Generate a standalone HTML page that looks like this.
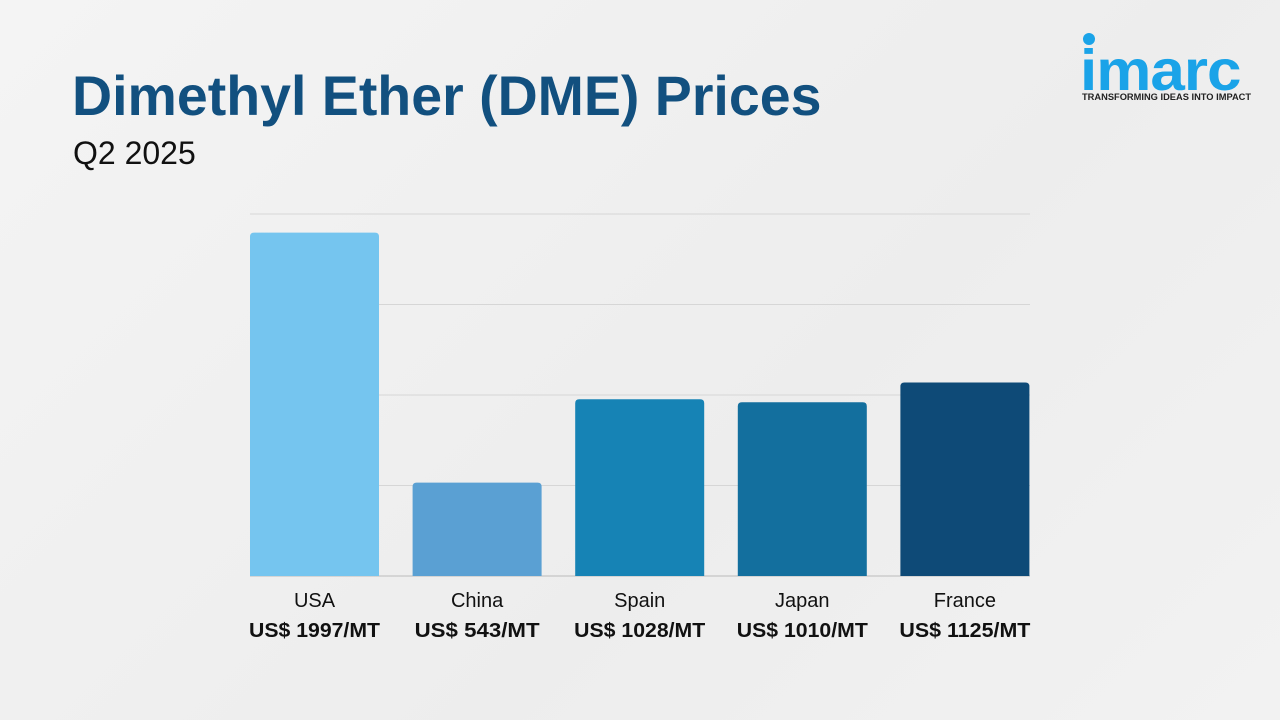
<!DOCTYPE html>
<html><head><meta charset="utf-8"><style>
body{margin:0;width:1280px;height:720px;overflow:hidden;background:linear-gradient(135deg,#f4f4f4,#ededed 60%,#f2f2f2);font-family:"Liberation Sans",sans-serif;position:relative}
.t{position:absolute;left:72px;top:64px;font-size:55.5px;font-weight:bold;color:#12507f;margin:0}
.s{position:absolute;left:73px;top:135px;font-size:32px;color:#111}
.logo{position:absolute;left:1080px;top:34px}
.logo .w{font-size:62px;font-weight:bold;color:#1aa3e8;letter-spacing:-1px;line-height:62px;position:absolute;left:0;top:4px;transform:scaleY(0.92);transform-origin:left bottom}
.logo .tag{position:absolute;left:2px;top:58px;font-size:9.3px;font-weight:bold;color:#222;white-space:nowrap}
</style></head><body>
<h1 class="t">Dimethyl Ether (DME) Prices</h1>
<div class="s">Q2 2025</div>
<div class="logo"><span class="w">imarc</span><span class="tag">TRANSFORMING IDEAS INTO IMPACT</span></div>
<svg id="c" width="1280" height="720" style="position:absolute;left:0;top:0"></svg>
<script>
const categories=["USA","China","Spain","Japan","France"];
const values=[1997,543,1028,1010,1125];
const valueLabels=["US$ 1997/MT","US$ 543/MT","US$ 1028/MT","US$ 1010/MT","US$ 1125/MT"];
const colors=["#75c5ef","#5aa0d3","#1683b5","#136f9e","#0e4a77"];
const gridTicks=[0,1,2,3,4];
const svg=document.getElementById('c');const NS="http://www.w3.org/2000/svg";
const x0=250,x1=1030,base=576,top_=214,maxV=2105;
const y=v=>base-(v/maxV)*(base-top_);
const step=(x1-x0+33)/categories.length,bw=129;
const xb=i=>x0+i*step;
function mk(t,a){const e=document.createElementNS(NS,t);for(const k in a)e.setAttribute(k,a[k]);svg.appendChild(e);return e;}
gridTicks.forEach(g=>{const yy=top_+g*(base-top_)/4;const l=mk('line',{x1:x0,x2:x1,y1:yy,y2:yy,stroke:g==4?'#bbb':'#d6d6d6','stroke-width':1});

});
categories.forEach((c,i)=>{
const yt=y(values[i]);
const r=mk('path',{d:`M${xb(i)},${base}V${yt+4}Q${xb(i)},${yt} ${xb(i)+4},${yt}H${xb(i)+bw-4}Q${xb(i)+bw},${yt} ${xb(i)+bw},${yt+4}V${base}Z`,fill:colors[i]});


const cx=xb(i)+bw/2;
const t=mk('text',{x:cx,y:607,'text-anchor':'middle','font-size':20,fill:'#111','font-family':'Liberation Sans'});t.textContent=c;


const v=mk('text',{x:cx,y:637,'text-anchor':'middle','font-size':20.5,'font-weight':'bold',fill:'#111','font-family':'Liberation Sans',textLength:130,lengthAdjust:'spacingAndGlyphs'});v.textContent=valueLabels[i];
v.setAttribute('textLength', i==1?125:131);


});
</script>
<div style="position:absolute;left:1083px;top:33px;width:12px;height:12px;border-radius:50%;background:#1aa3e8"></div>
</body></html>
